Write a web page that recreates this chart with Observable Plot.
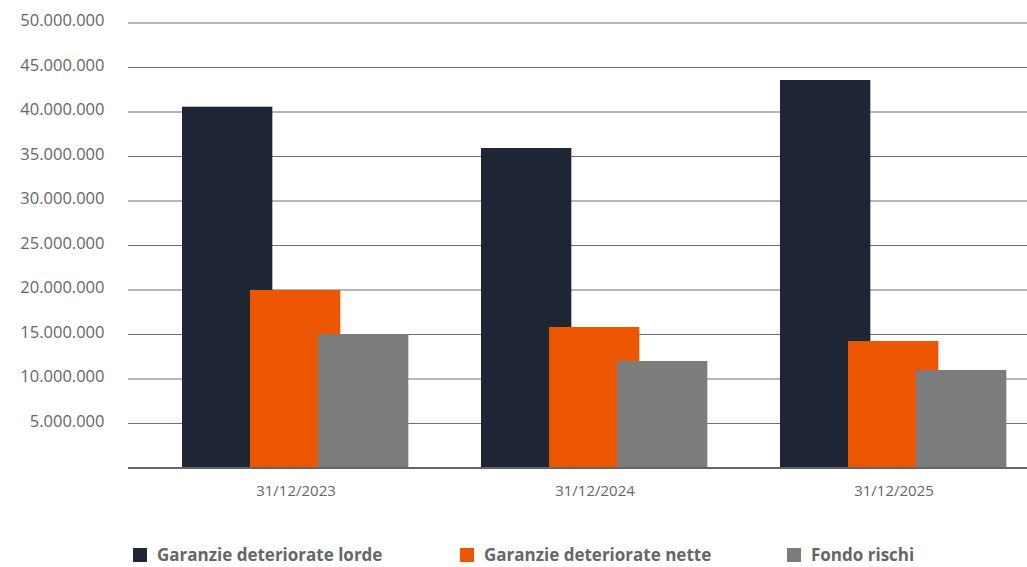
<!DOCTYPE html>
<html>
<head>
<meta charset="utf-8">
<script src="https://cdn.jsdelivr.net/npm/d3@7"></script>
<script src="https://cdn.jsdelivr.net/npm/@observablehq/plot@0.6"></script>
<style>
  html, body { margin: 0; padding: 0; background: #fff; }
  body { width: 1027px; height: 567px; overflow: hidden; font-family: "Open Sans", sans-serif; position: relative; }
  #legend { position: absolute; left: 133px; top: 545px; display: flex; }
  .item { display: flex; align-items: center; width: 327px; flex: none; color: #666; font-weight: 700; font-size: 17px; line-height: 20px; white-space: nowrap; }
  .sw { width: 14px; height: 14px; margin-right: 10px; flex: none; }
</style>
</head>
<body>
<div id="chart"></div>
<div id="legend"></div>
<script>
const dates = ["31/12/2023", "31/12/2024", "31/12/2025"];
const seriesNames = ["Garanzie deteriorate lorde", "Garanzie deteriorate nette", "Fondo rischi"];
const lorde = [40540000, 35900000, 43540000];
const nette = [19950000, 15790000, 14210000];
const fondo = [15000000, 11970000, 10960000];
const colors = ["#1e2636", "#ec5600", "#7b7c7b"];
const yTicks = [5000000, 10000000, 15000000, 20000000, 25000000, 30000000, 35000000, 40000000, 45000000, 50000000];

const values = [lorde, nette, fondo];
const rows = [];
seriesNames.forEach((s, i) => dates.forEach((d, j) => rows.push({series: s, date: d, value: values[i][j]})));

const it = d3.formatLocale({decimal: ",", thousands: ".", grouping: [3], currency: ["", "€"]});
const fmt = it.format(",d");

const W = 1027, mL = 128, mR = 0;
const bw = (W - mL - mR) / dates.length;
const barW = 91, first = 53, step = 68;

const marks = [Plot.ruleY(yTicks, {stroke: "#6f6f6f", strokeWidth: 1})];
seriesNames.forEach((s, i) => {
  const left = first + i * step;
  marks.push(Plot.barY(rows.filter(r => r.series === s), {
    x: "date", y: "value", fill: colors[i],
    insetLeft: left, insetRight: bw - left - barW
  }));
});
marks.push(Plot.ruleY([0], {stroke: "#666", strokeWidth: 2}));
marks.push(Plot.axisY(yTicks, {tickSize: 0, tickPadding: 24, fontSize: 16.5, tickFormat: fmt, dy: -2, label: null}));
marks.push(Plot.axisX({tickSize: 0, tickPadding: 17, fontSize: 15, dx: 17, label: null}));

const chart = Plot.plot({
  width: W, height: 515,
  marginLeft: mL, marginRight: mR, marginTop: 22.5, marginBottom: 47.5,
  style: {fontFamily: "'Open Sans', sans-serif", color: "#666", background: "#fff"},
  x: {domain: dates, padding: 0, label: null},
  y: {domain: [0, 50000000], label: null},
  marks
});
document.getElementById("chart").appendChild(chart);

const legend = document.getElementById("legend");
seriesNames.forEach((s, i) => {
  const item = document.createElement("div");
  item.className = "item";
  const sw = document.createElement("span");
  sw.className = "sw";
  sw.style.background = colors[i];
  const t = document.createElement("span");
  t.textContent = s;
  item.appendChild(sw); item.appendChild(t);
  legend.appendChild(item);
});
</script>
</body>
</html>
